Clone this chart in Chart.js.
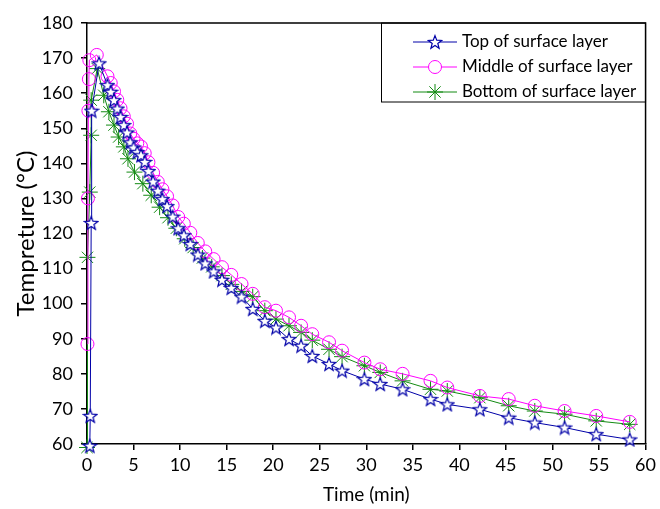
<!DOCTYPE html>
<html>
<head>
<meta charset="utf-8">
<script src="https://cdn.jsdelivr.net/npm/chart.js@4.4.1/dist/chart.umd.min.js"></script>
<style>
  html, body { margin: 0; padding: 0; background: #ffffff; }
  #wrap { width: 660px; height: 509px; }
</style>
</head>
<body>
<div id="wrap"><canvas id="tempChart" width="660" height="509"></canvas></div>
<script>
// Series names
const seriesNames = ['Top of surface layer', 'Middle of surface layer', 'Bottom of surface layer'];

// Top of surface layer (stars)
const timeTop = [0.3, 0.35, 0.45, 0.5, 1.3, 2.2, 2.55, 2.9, 3.25, 3.6, 3.95, 4.3, 4.65, 5.0, 5.4, 5.8, 6.2, 6.6, 7.1, 7.6, 8.1, 8.6, 9.2, 9.8, 10.4, 11.1, 11.9, 12.7, 13.6, 14.5, 15.5, 16.6, 17.8, 19.1, 20.3, 21.7, 23.0, 24.2, 26.0, 27.4, 29.8, 31.5, 33.9, 36.9, 38.7, 42.2, 45.3, 48.1, 51.3, 54.7, 58.3];
const tempTop = [59.5, 68, 123, 155, 168.5, 162.3, 160.4, 158, 155.6, 153.2, 150.9, 148.8, 146, 144.5, 143.2, 142.3, 140.4, 137.8, 134.8, 132.2, 129.8, 127.8, 124.8, 121.5, 119.5, 117, 114, 111.5, 109.2, 106.8, 104.5, 102, 98.5, 95.1, 93.2, 89.9, 88, 85.1, 82.8, 80.9, 78.5, 77.1, 75.6, 72.8, 71.3, 69.9, 67.5, 66.1, 64.7, 62.8, 61.3];

// Middle of surface layer (circles)
const timeMiddle = [0.05, 0.1, 0.15, 0.2, 0.25, 1.05, 2.2, 2.55, 2.9, 3.25, 3.6, 3.95, 4.3, 4.65, 5.0, 5.4, 5.8, 6.2, 6.6, 7.1, 7.6, 8.1, 8.6, 9.2, 9.8, 10.4, 11.1, 11.9, 12.7, 13.6, 14.5, 15.5, 16.6, 17.8, 19.1, 20.3, 21.7, 23.0, 24.2, 26.0, 27.4, 29.8, 31.5, 33.9, 36.9, 38.7, 42.2, 45.3, 48.1, 51.3, 54.7, 58.3];
const tempMiddle = [88.5, 130, 155, 164, 169.4, 170.9, 164.8, 162.9, 160.5, 158.1, 155.7, 153.4, 151.3, 148.5, 147, 145.7, 144.8, 142.9, 140.3, 137.3, 134.7, 132.6, 130.6, 128, 124.7, 122.8, 120.2, 117.3, 114.9, 112.7, 110.4, 108.2, 105.6, 102.8, 99, 98, 96.1, 93.7, 91.3, 89, 86.6, 83.2, 81.3, 80, 78, 76.1, 73.7, 72.8, 70.9, 69.4, 68, 66.3];

// Bottom of surface layer (asterisks)
const timeBottom = [0, 0.05, 0.3, 0.45, 0.45, 1.1, 1.8, 2.35, 2.9, 3.4, 3.96, 4.4, 5.1, 6.0, 6.9, 7.8, 8.7, 9.6, 10.5, 11.4, 12.4, 13.4, 14.5, 15.5, 16.6, 17.8, 19.1, 20.3, 21.7, 23.0, 24.2, 26.0, 27.4, 29.8, 31.5, 33.9, 36.9, 38.7, 42.2, 45.3, 48.1, 51.3, 54.7, 58.3];
const tempBottom = [59, 113.2, 131.8, 148, 158, 167, 159.4, 154.7, 150.9, 147.5, 144.7, 141.3, 137.5, 134.2, 130.9, 127.5, 124.5, 121.5, 118.5, 116, 113, 110.5, 108, 105.5, 103.5, 102, 98, 95.6, 93.7, 91.8, 89.6, 87, 84.9, 82.3, 80.4, 78, 75.6, 75.1, 73.2, 70.9, 69.4, 68.5, 66.6, 65.6];

// Axis ticks
const xTickValues = [0, 5, 10, 15, 20, 25, 30, 35, 40, 45, 50, 55, 60];
const yTickValues = [60, 70, 80, 90, 100, 110, 120, 130, 140, 150, 160, 170, 180];

const FONT = "Lato, 'Liberation Sans', Arial, sans-serif";
const BLUE = '#0000a8';
const MAGENTA = '#ff00ff';
const GREEN = '#138a13';

// hollow five-point star used as point marker for the top series
function makeStar(size) {
    const c = document.createElement('canvas');
    c.width = size; c.height = size;
    const g = c.getContext('2d');
    const cx = size / 2, cy = size / 2 + 0.6;
    const ro = size / 2 - 1, ri = ro * 0.42;
    g.beginPath();
    for (let i = 0; i < 10; i++) {
        const r = i % 2 === 0 ? ro : ri;
        const a = -Math.PI / 2 + i * Math.PI / 5;
        const px = cx + r * Math.cos(a), py = cy + r * Math.sin(a);
        if (i === 0) g.moveTo(px, py); else g.lineTo(px, py);
    }
    g.closePath();
    g.fillStyle = '#ffffff';
    g.fill();
    g.strokeStyle = BLUE;
    g.lineWidth = 1.2;
    g.stroke();
    return c;
}
const starImg = makeStar(16);

const toPoints = (xs, ys) => xs.map((x, i) => ({ x: x, y: ys[i] }));

// legend box in the upper right corner of the plot + frame top/right edges
const framePlugin = {
    id: 'frameAndLegend',
    afterDraw(chart) {
        const { ctx, chartArea: a } = chart;
        ctx.save();
        ctx.strokeStyle = '#000000';
        ctx.lineWidth = 1.5;
        ctx.beginPath();
        ctx.moveTo(a.left, a.top);
        ctx.lineTo(a.right, a.top);
        ctx.lineTo(a.right, a.bottom);
        ctx.stroke();

        // legend
        const boxLeft = 381, boxBottom = 102;
        ctx.lineWidth = 1;
        ctx.strokeRect(boxLeft + 0.5, a.top, a.right - boxLeft - 0.5, boxBottom - a.top);
        const rows = [42, 67, 92];
        const colors = [BLUE, MAGENTA, GREEN];
        rows.forEach((y, i) => {
            ctx.strokeStyle = colors[i];
            ctx.lineWidth = 1;
            ctx.beginPath();
            ctx.moveTo(413, y);
            ctx.lineTo(457, y);
            ctx.stroke();
            const mx = 435;
            if (i === 0) {
                ctx.drawImage(starImg, mx - starImg.width / 2, y - starImg.height / 2);
            } else if (i === 1) {
                ctx.beginPath();
                ctx.fillStyle = '#ffffff';
                ctx.arc(mx, y, 6.5, 0, Math.PI * 2);
                ctx.fill();
                ctx.stroke();
            } else {
                const r = 8;
                ctx.beginPath();
                for (let k = 0; k < 4; k++) {
                    const ang = k * Math.PI / 4;
                    ctx.moveTo(mx - r * Math.cos(ang), y - r * Math.sin(ang));
                    ctx.lineTo(mx + r * Math.cos(ang), y + r * Math.sin(ang));
                }
                ctx.stroke();
            }
            ctx.fillStyle = '#000000';
            ctx.font = '17px ' + FONT;
            ctx.textBaseline = 'middle';
            ctx.textAlign = 'left';
            ctx.fillText(seriesNames[i], 462, y);
        });
        ctx.restore();
    }
};

new Chart(document.getElementById('tempChart').getContext('2d'), {
    type: 'line',
    data: {
        datasets: [
            {
                label: seriesNames[0],
                data: toPoints(timeTop, tempTop),
                borderColor: BLUE,
                borderWidth: 1,
                pointStyle: starImg,
                pointRadius: 8,
                tension: 0,
                clip: 10
            },
            {
                label: seriesNames[1],
                data: toPoints(timeMiddle, tempMiddle),
                borderColor: MAGENTA,
                borderWidth: 1,
                pointStyle: 'circle',
                pointRadius: 6.5,
                pointBorderWidth: 1,
                pointBorderColor: MAGENTA,
                pointBackgroundColor: 'rgba(255,255,255,0)',
                tension: 0,
                clip: 10
            },
            {
                label: seriesNames[2],
                data: toPoints(timeBottom, tempBottom),
                borderColor: GREEN,
                borderWidth: 1,
                pointStyle: 'star',
                pointRadius: 8,
                pointBorderWidth: 1,
                pointBorderColor: GREEN,
                tension: 0,
                clip: 10
            }
        ]
    },
    options: {
        responsive: false,
        animation: false,
        events: [],
        layout: { padding: { left: 0, right: 12, top: 23, bottom: 0 } },
        plugins: {
            legend: { display: false },
            tooltip: { enabled: false }
        },
        scales: {
            x: {
                type: 'linear',
                min: 0,
                max: 60,
                afterBuildTicks: s => { s.ticks = xTickValues.map(v => ({ value: v })); },
                afterFit: s => { s.height = 65; },
                border: { display: true, color: '#000000', width: 1.5 },
                grid: { display: true, drawOnChartArea: false, drawTicks: true, tickLength: 6, color: '#000000', lineWidth: 1.5 },
                ticks: { color: '#000000', font: { family: FONT, size: 18 }, padding: 4, maxRotation: 0 },
                title: { display: true, text: 'Time (min)', color: '#000000', font: { family: FONT, size: 19 }, padding: { top: 0, bottom: 3 } }
            },
            y: {
                type: 'linear',
                min: 60,
                max: 180,
                afterBuildTicks: s => { s.ticks = yTickValues.map(v => ({ value: v })); },
                afterFit: s => { s.width = 87; },
                border: { display: true, color: '#000000', width: 1.5 },
                grid: { display: true, drawOnChartArea: false, drawTicks: true, tickLength: 6, color: '#000000', lineWidth: 1.5 },
                ticks: { color: '#000000', font: { family: FONT, size: 18 }, padding: 8 },
                title: { display: true, text: 'Tempreture (°C)', color: '#000000', font: { family: FONT, size: 24 }, padding: { top: 12, bottom: 0 } }
            }
        }
    },
    plugins: [framePlugin]
});
</script>
</body>
</html>
